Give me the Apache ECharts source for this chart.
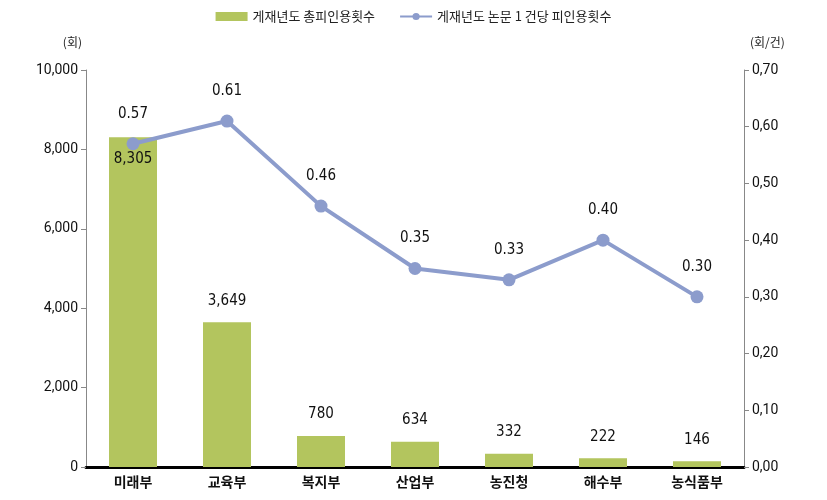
<!DOCTYPE html>
<html>
<head>
<meta charset="utf-8">
<script src="https://cdn.jsdelivr.net/npm/echarts@6/dist/echarts.min.js"></script>
<style>
html, body { margin: 0; padding: 0; background: #fff; }
#chart { width: 827px; height: 500px; }
</style>
</head>
<body>
<div id="chart"></div>
<script>
var categories = ['미래부', '교육부', '복지부', '산업부', '농진청', '해수부', '농식품부'];
var totalCites = [8305, 3649, 780, 634, 332, 222, 146];
var citesPerPaper = [0.57, 0.61, 0.46, 0.35, 0.33, 0.40, 0.30];
var seriesNames = ['게재년도 총피인용횟수', '게재년도 논문 1 건당 피인용횟수'];

var numFont = '"DejaVu Sans Condensed", "Liberation Sans Narrow", sans-serif';
var axisFont = '"Roboto", sans-serif';
var krFont = '"Noto Sans CJK KR", sans-serif';

var chart = echarts.init(document.getElementById('chart'));
var option = {
    animation: false,
    legend: {
        top: 5,
        left: 'center',
        itemGap: 24,
        itemWidth: 32,
        itemHeight: 9,
        textStyle: { fontFamily: krFont, fontSize: 13, color: '#222' },
        data: [
            { name: seriesNames[0], icon: 'rect' },
            { name: seriesNames[1] }
        ]
    },
    grid: { left: 86, right: 83, top: 70, bottom: 33 },
    xAxis: {
        type: 'category',
        data: categories,
        axisLine: { lineStyle: { color: '#000', width: 3 } },
        axisTick: { show: false },
        axisLabel: { fontFamily: krFont, fontWeight: 'bold', fontSize: 14, color: '#111', margin: 8 }
    },
    yAxis: [
        {
            type: 'value',
            name: '(회)',
            nameLocation: 'end',
            nameGap: 22,
            nameTextStyle: { fontFamily: krFont, fontSize: 12, color: '#222', align: 'right', padding: [0, 4, 0, 0] },
            min: 0, max: 10000, interval: 2000,
            axisLine: { show: true, lineStyle: { color: '#888' } },
            axisTick: { show: true, length: 5, lineStyle: { color: '#888' } },
            splitLine: { show: false },
            axisLabel: {
                fontFamily: axisFont, fontSize: 14, color: '#111', margin: 8,
                formatter: function (v) { return v.toLocaleString('en-US'); }
            }
        },
        {
            type: 'value',
            name: '(회/건)',
            nameLocation: 'end',
            nameGap: 22,
            nameTextStyle: { fontFamily: krFont, fontSize: 12, color: '#222', align: 'left', padding: [0, 0, 0, 6] },
            min: 0, max: 0.7, interval: 0.1,
            axisLine: { show: true, lineStyle: { color: '#888' } },
            axisTick: { show: true, length: 5, lineStyle: { color: '#888' } },
            splitLine: { show: false },
            axisLabel: {
                fontFamily: axisFont, fontSize: 14, color: '#111', margin: 8,
                formatter: function (v) { return v.toFixed(2).replace('.', ','); }
            }
        }
    ],
    series: [
        {
            name: seriesNames[0],
            type: 'bar',
            yAxisIndex: 0,
            barWidth: 48,
            itemStyle: { color: '#b3c55e' },
            data: totalCites.map(function (v, i) {
                return {
                    value: v,
                    label: i === 0 ? { position: 'insideTop', distance: 14 } : { position: 'top', distance: 14 }
                };
            }),
            label: {
                show: true,
                fontFamily: numFont, fontSize: 15, color: '#111',
                formatter: function (p) { return p.value.toLocaleString('en-US'); }
            },
            z: 2
        },
        {
            name: seriesNames[1],
            type: 'line',
            yAxisIndex: 1,
            data: citesPerPaper,
            symbol: 'circle',
            symbolSize: 13,
            lineStyle: { color: '#8c9ccc', width: 4 },
            itemStyle: { color: '#8c9ccc' },
            label: {
                show: true,
                position: 'top',
                distance: 16,
                fontFamily: numFont, fontSize: 15, color: '#111',
                formatter: function (p) { return p.value.toFixed(2); }
            },
            z: 3
        }
    ]
};
chart.setOption(option);
</script>
</body>
</html>
